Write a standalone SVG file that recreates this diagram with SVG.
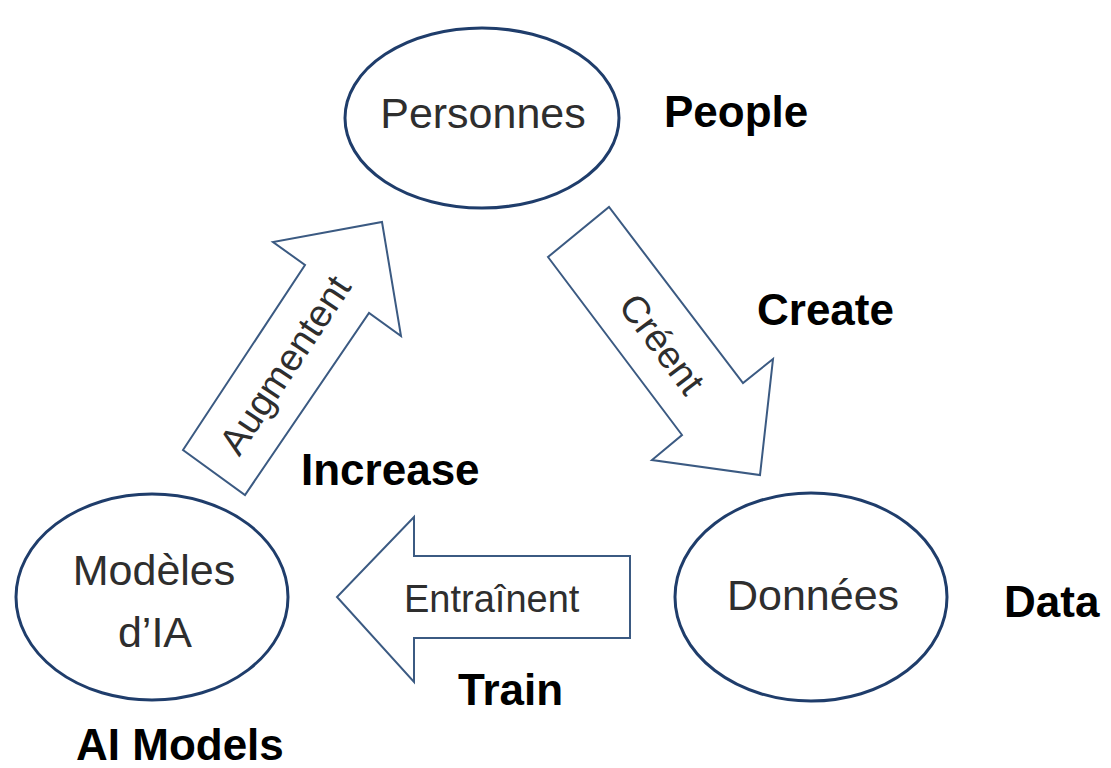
<svg xmlns="http://www.w3.org/2000/svg" width="1111" height="768" viewBox="0 0 1111 768">
<style>
.node{fill:#fff;stroke:#1f3d6b;stroke-width:3}
.arrow{fill:#fff;stroke:#3b5a82;stroke-width:2;stroke-linejoin:miter}
.in{font-family:"Liberation Sans",Arial,sans-serif;font-size:43px;fill:#2e2e2e}
.al{font-family:"Liberation Sans",Arial,sans-serif;font-size:38px;fill:#2e2e2e}
.en{font-family:"Liberation Sans",Arial,sans-serif;font-size:44px;font-weight:bold;fill:#000}
</style>
<rect width="1111" height="768" fill="#fff"/>
<g id="connectors">
<g id="augmentent">
<polygon class="arrow" points="183,450 305,265 273,242 382,222 401,336 369,313 245,495"/>
<text class="al" text-anchor="middle" transform="translate(285,365) rotate(-56.5)" x="0" y="13">Augmentent</text>
</g>
<g id="creent">
<polygon class="arrow" points="548,257 609,207 743,383 773,359 760,475 652,460 682,435"/>
<text class="al" text-anchor="middle" transform="translate(662,344) rotate(53)" x="0" y="13">Créent</text>
</g>
<g id="entrainent">
<polygon class="arrow" points="630,556 414,556 414,517 337,597 414,682 414,638 630,638"/>
<text class="al" x="404" y="612">Entraînent</text>
</g>
</g>
<g id="personnes">
<ellipse class="node" cx="482" cy="118" rx="137" ry="90"/>
<text class="in" text-anchor="middle" x="483" y="128">Personnes</text>
</g>
<g id="modeles">
<ellipse class="node" cx="152" cy="597" rx="136" ry="103"/>
<text class="in" text-anchor="middle" x="154" y="585">Modèles</text>
<text class="in" text-anchor="middle" x="155" y="647">d’IA</text>
</g>
<g id="donnees">
<ellipse class="node" cx="811" cy="597" rx="136" ry="104"/>
<text class="in" text-anchor="middle" x="813" y="610">Données</text>
</g>
<g id="english-labels">
<text class="en" x="664" y="127">People</text>
<text class="en" x="757" y="325">Create</text>
<text class="en" x="301" y="485">Increase</text>
<text class="en" x="1004" y="617">Data</text>
<text class="en" x="458" y="705">Train</text>
<text class="en" x="76" y="760">AI Models</text>
</g>
</svg>
